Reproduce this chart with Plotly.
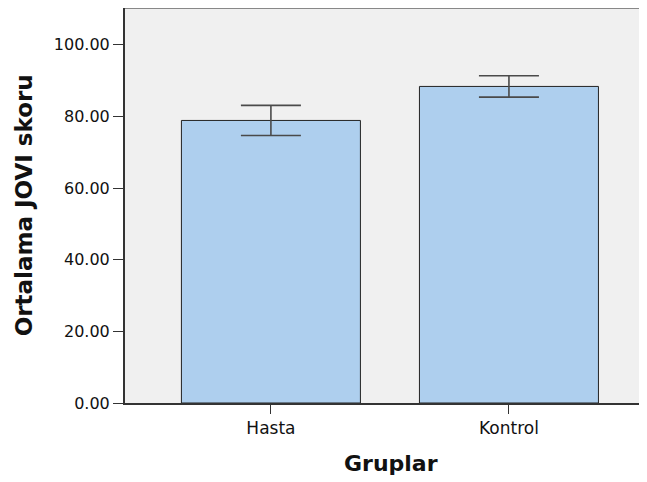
import plotly.graph_objects as go

categories = ["Hasta", "Kontrol"]
means = [78.9, 88.4]
err = [4.2, 3.0]
y_ticks = [0, 20, 40, 60, 80, 100]
y_tick_labels = ["0.00", "20.00", "40.00", "60.00", "80.00", "100.00"]

fig = go.Figure()
fig.add_trace(go.Bar(
    x=[0, 1], y=means, width=0.752,
    marker=dict(color="#aecfee", line=dict(color="#222222", width=1)),
    error_y=dict(type="data", array=err, visible=True, color="#4a4a4a",
                 thickness=1.6, width=30),
    hoverinfo="skip",
))
fig.add_shape(type="line", xref="paper", yref="paper", x0=0, x1=1, y0=1, y1=1,
              line=dict(color="#888888", width=2))
fig.add_annotation(text="<b>Ortalama JOVI skoru</b>", xref="paper", yref="paper",
                   x=-0.193, y=0.501, textangle=-90, showarrow=False,
                   xanchor="center", yanchor="middle", font=dict(size=23, color="#111111"))
fig.add_annotation(text="<b>Gruplar</b>", xref="paper", yref="paper",
                   x=0.51, y=-0.154, showarrow=False,
                   xanchor="center", yanchor="middle", font=dict(size=22, color="#111111"))
fig.update_layout(
    width=647, height=482,
    margin=dict(l=117, r=8, t=0, b=87),
    paper_bgcolor="white", plot_bgcolor="#f0f0f0",
    font=dict(family="DejaVu Sans", color="#111111"),
    showlegend=False,
    xaxis=dict(range=[-0.613, 1.58], tickvals=[0, 1], ticktext=categories,
               showgrid=False, zeroline=False, showline=True, linecolor="#333333",
               linewidth=2, ticks="outside", ticklen=9, tickcolor="#333333",
               tickfont=dict(size=17), automargin=False),
    yaxis=dict(range=[0, 110.3], tickvals=y_ticks, ticktext=y_tick_labels,
               showgrid=False, zeroline=False, showline=True, linecolor="#333333",
               linewidth=2, ticks="outside", ticklen=10, tickcolor="#333333",
               tickfont=dict(size=16), automargin=False),
)
fig.write_html("out.html")
